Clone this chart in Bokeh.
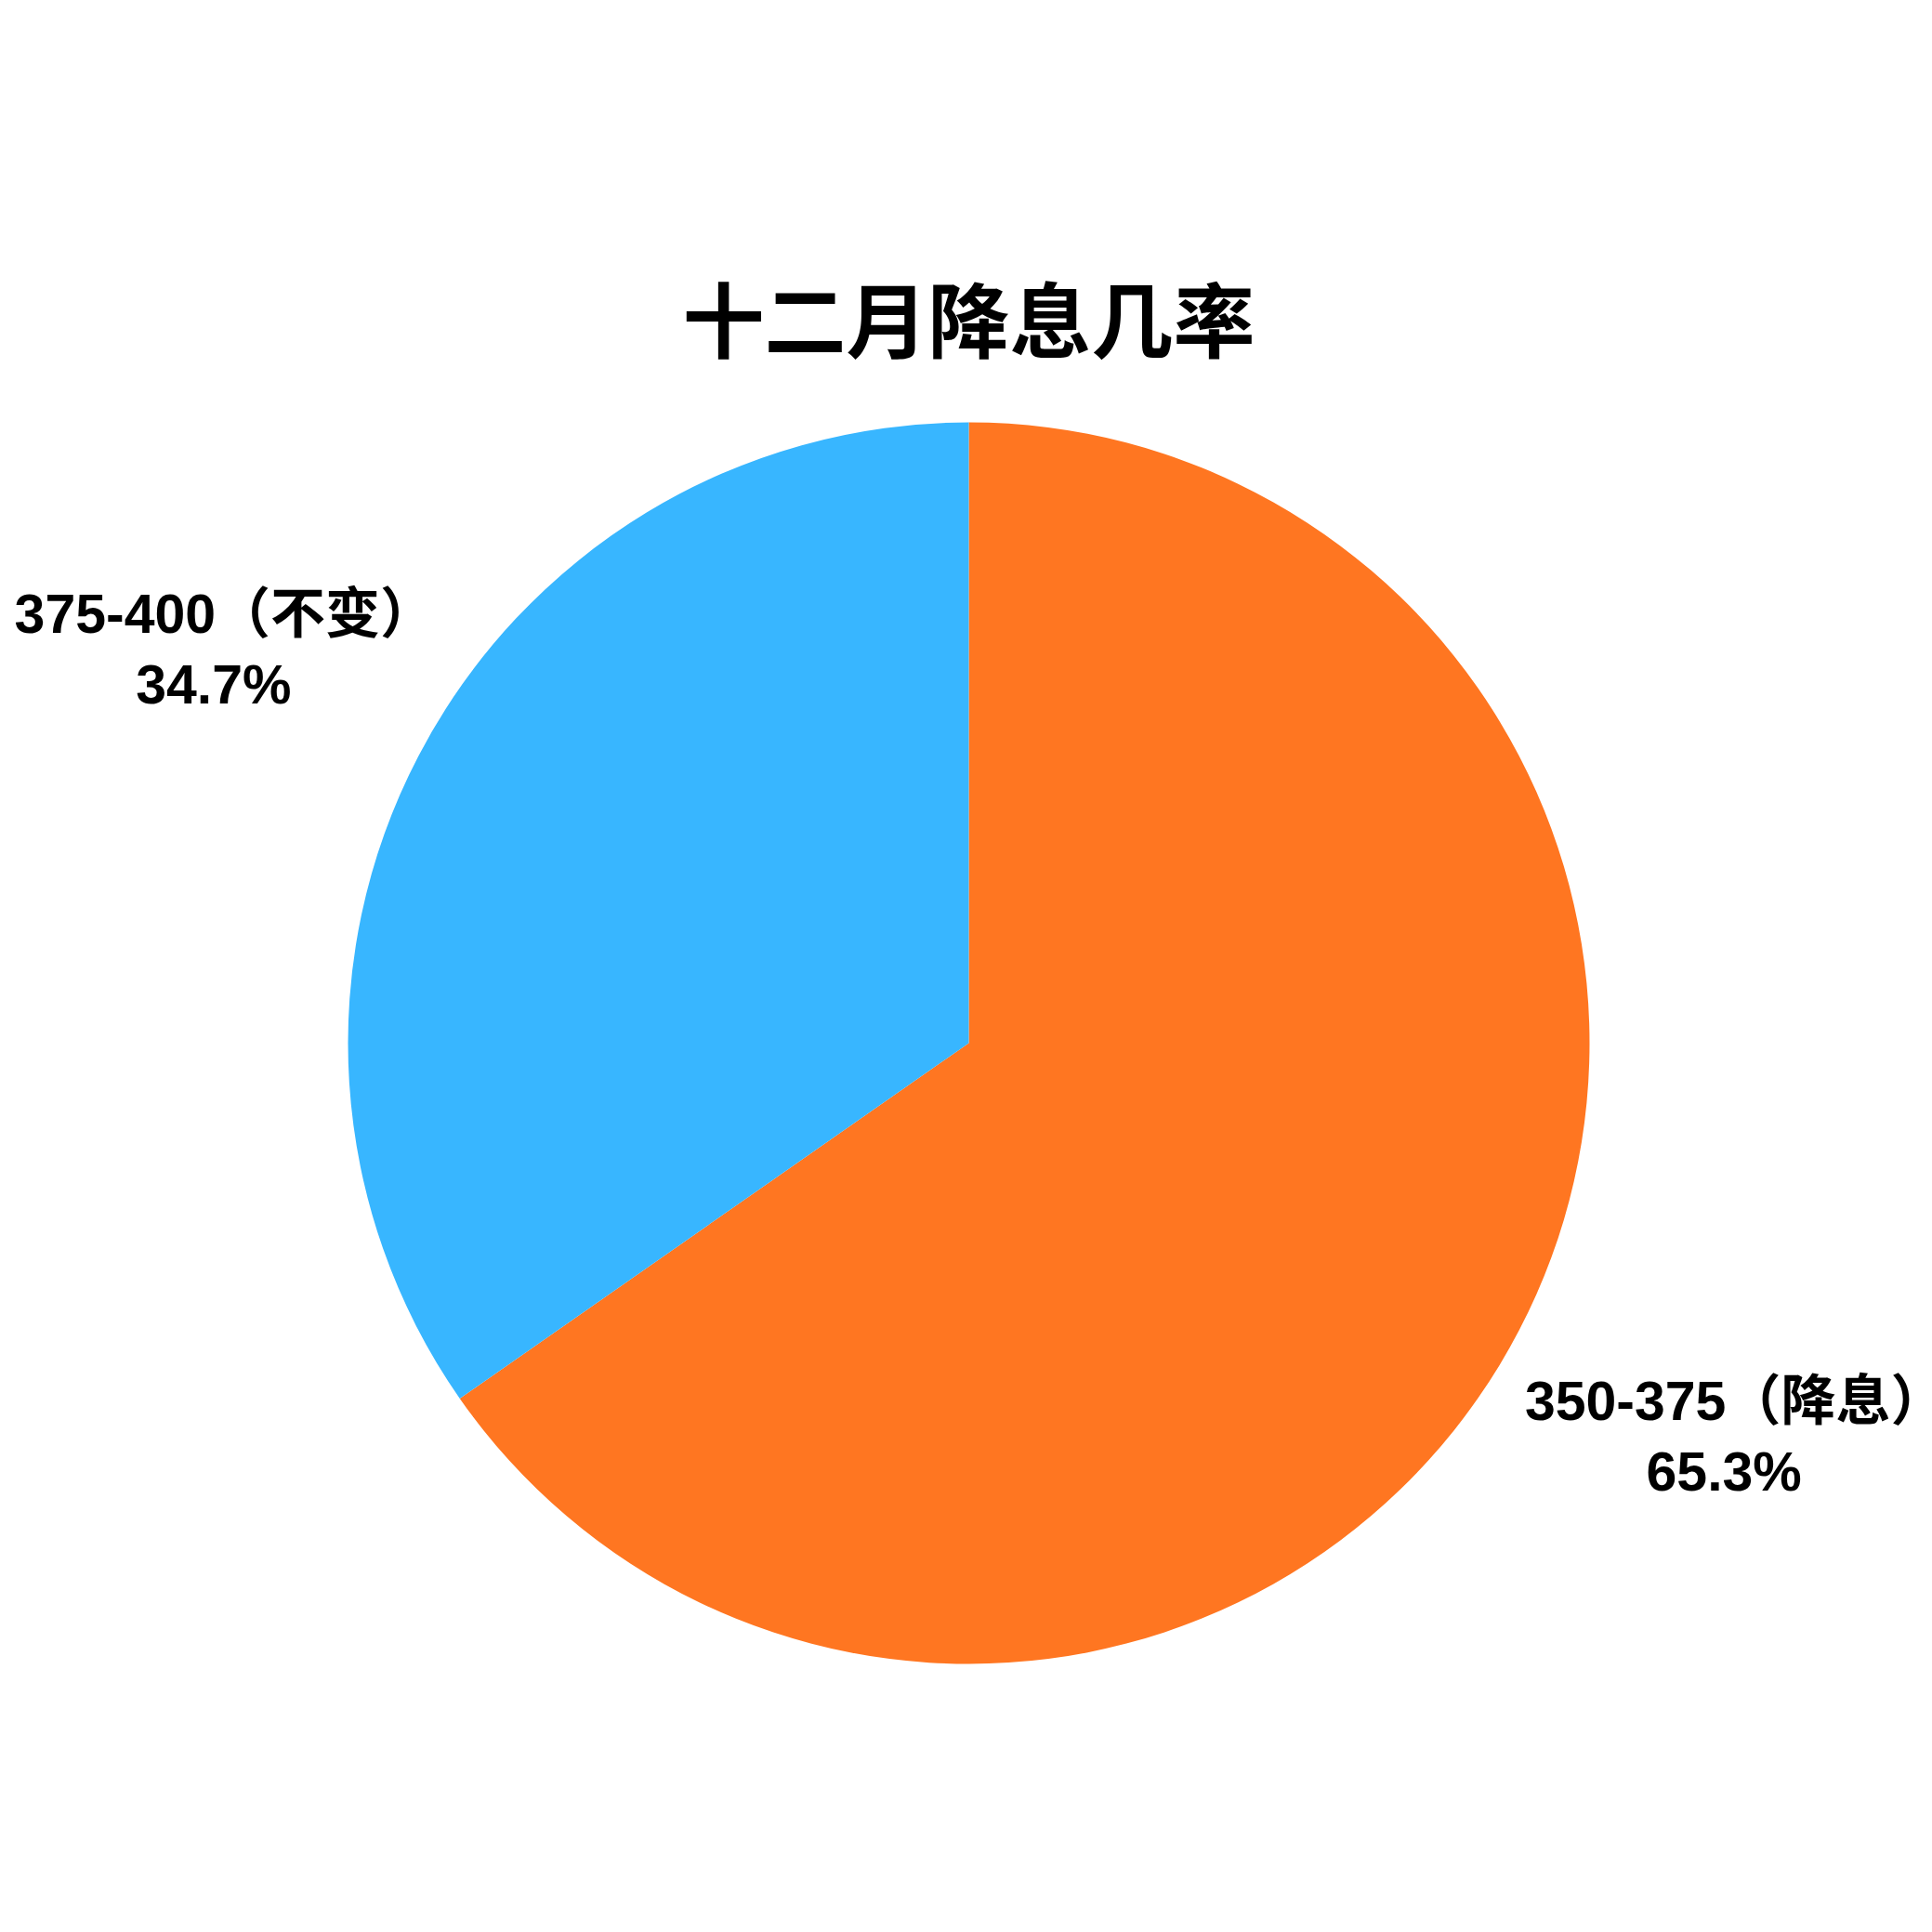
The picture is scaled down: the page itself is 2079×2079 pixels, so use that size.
import numpy as np
from bokeh.plotting import figure
from bokeh.models import Range1d, ColumnDataSource
from bokeh.core.properties import value
from bokeh.embed import file_html
from bokeh.resources import INLINE

# ---- data ----
title_text = "十二月降息几率"
categories = ["350-375（降息）", "375-400（不变）"]
shares = [65.3, 34.7]
colors = ["#FF7621", "#38B6FF"]

# ---- layout (pixels) ----
W, H = 2071, 2063
CX, CY = 1042, 1122      # pie centre, px from figure's top-left
R = 668                  # pie radius in px
TITLE_Y = 339            # title centre, px from top
LABEL_K = 1.372          # label block distance, in radii
LINE_GAP = 38 / R        # half the distance between label lines
NAME_DX = 12 / R         # optical correction for the full-width brackets

to_y = lambda py: (CY - py) / R

p = figure(width=W, height=H,
           x_range=Range1d(-CX / R, (W - CX) / R),
           y_range=Range1d(-(H - CY) / R, CY / R),
           output_backend="svg", toolbar_location=None,
           x_axis_location=None, y_axis_location=None,
           min_border=0, outline_line_color=None,
           background_fill_color="white", border_fill_color="white")
p.grid.visible = False

vals = np.array(shares, dtype=float)
ang = vals / vals.sum() * 2 * np.pi
start = np.pi / 2 - np.concatenate([[0], np.cumsum(ang)[:-1]])
end = start - ang
mid = (start + end) / 2
lx = LABEL_K * np.cos(mid)
ly = LABEL_K * np.sin(mid)

src = ColumnDataSource(dict(
    start=start, end=end, color=colors,
    lx1=lx + NAME_DX, lx2=lx, ly1=ly + LINE_GAP, ly2=ly - LINE_GAP,
    name=categories,
    pct=[f"{v:.1f}%" for v in shares],
))

p.wedge(x=0, y=0, radius=1, start_angle="start", end_angle="end",
        direction="clock", fill_color="color", line_color=None, source=src)

font = value("'Liberation Sans', 'Noto Sans CJK SC'")
for xcol, ycol, tcol in (("lx1", "ly1", "name"), ("lx2", "ly2", "pct")):
    p.text(x=xcol, y=ycol, text=tcol, source=src,
           text_align="center", text_baseline="middle",
           text_font=font, text_font_style="bold", text_font_size="59px",
           text_color="black")

p.text(x=[0], y=[to_y(TITLE_Y)], text=[title_text],
       text_align="center", text_baseline="middle",
       text_font=value("Noto Sans CJK SC"), text_font_style="bold",
       text_font_size="88px", text_color="black")

open("out.html", "w").write(file_html(p, INLINE))
